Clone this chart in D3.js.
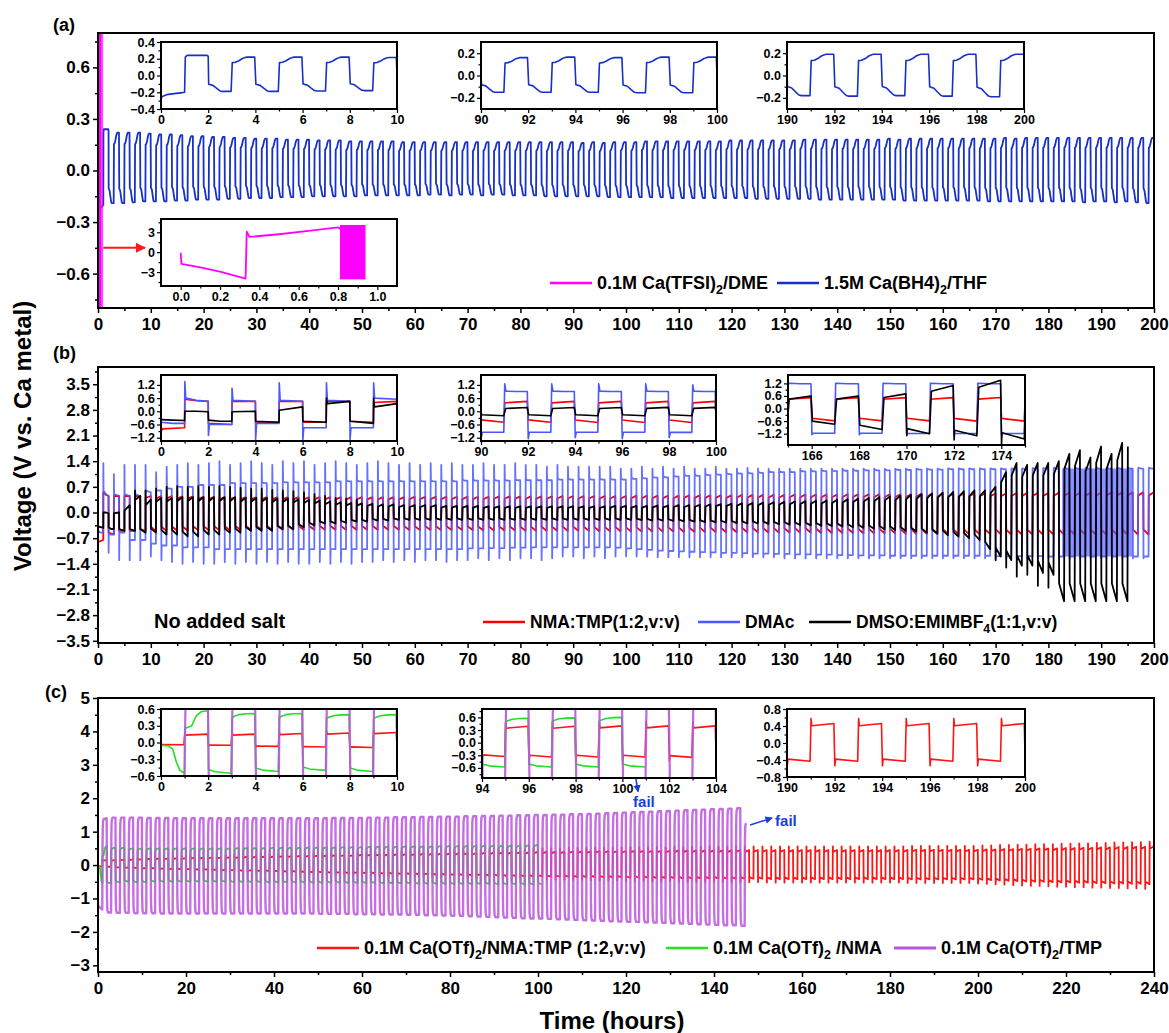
<!DOCTYPE html>
<html>
<head>
<meta charset="utf-8">
<script src="https://cdn.jsdelivr.net/npm/d3@7"></script>
<style>
  body { margin: 0; background: #fff; }
  text { white-space: pre; }
</style>
</head>
<body>
<svg id="chart" width="1169" height="1033"></svg>
<script>
const FONT = '"Liberation Sans", Arial, Helvetica, sans-serif';

// ---------------- panel (a) data ----------------
// 0.1M Ca(TFSI)2/DME (hours, V)
const tfsiTrace = [[0,-0.1],[0.004,-1.75],[0.1,-2.3],[0.2,-2.95],[0.33,-4.0],[0.336,3.1],[0.35,2.3],[0.5,2.7],[0.65,3.2],[0.8,3.75],[0.81,3.5]];
const tfsiBlock = [0.81, 0.94, -4.1, 4.1];   // dense cycling block: t start, t end, low, high

// 1.5M Ca(BH4)2/THF: first 2 h as read, then one level per cycle (neg half, pos half)
const bh4Head = [[0,-0.28],[0.05,-0.25],[0.3,-0.225],[0.9,-0.205],[1.0,-0.2],[1.03,0.22],[1.1,0.24],[1.95,0.24],[2.0,0.23]];
const bh4Start = 2;
const bh4Lo = [
  -0.19,-0.19,-0.185,-0.18,-0.18,-0.18,-0.175,-0.175,-0.17,
  -0.17,-0.17,-0.165,-0.165,-0.16,-0.16,-0.16,-0.155,-0.155,-0.155,
  -0.15,-0.15,-0.15,-0.15,-0.15,-0.145,-0.145,-0.145,-0.145,-0.145,
  -0.145,-0.14,-0.14,-0.145,-0.14,-0.14,-0.145,-0.14,-0.14,-0.145,
  -0.145,-0.145,-0.15,-0.15,-0.15,-0.15,-0.15,-0.15,-0.155,-0.155,
  -0.155,-0.155,-0.155,-0.155,-0.16,-0.16,-0.16,-0.16,-0.16,-0.16,
  -0.16,-0.16,-0.165,-0.165,-0.165,-0.165,-0.165,-0.165,-0.17,-0.17,
  -0.17,-0.17,-0.17,-0.17,-0.17,-0.17,-0.175,-0.175,-0.175,-0.175,
  -0.175,-0.175,-0.175,-0.175,-0.18,-0.18,-0.18,-0.18,-0.18,-0.18,
  -0.18,-0.18,-0.18,-0.185,-0.18,-0.18,-0.185,-0.18,-0.185,-0.19];
const bh4Hi = [
  0.22,0.22,0.22,0.215,0.21,0.21,0.205,0.2,0.2,
  0.195,0.195,0.19,0.19,0.185,0.185,0.185,0.18,0.18,0.18,
  0.175,0.175,0.175,0.17,0.17,0.17,0.17,0.17,0.165,0.165,
  0.165,0.165,0.165,0.165,0.165,0.165,0.165,0.165,0.165,0.165,
  0.165,0.165,0.165,0.165,0.165,0.16,0.165,0.16,0.165,0.165,
  0.165,0.17,0.17,0.17,0.17,0.17,0.17,0.17,0.17,0.175,
  0.175,0.175,0.175,0.175,0.175,0.175,0.18,0.18,0.18,0.18,
  0.18,0.18,0.18,0.18,0.185,0.18,0.185,0.185,0.185,0.185,
  0.185,0.185,0.185,0.185,0.185,0.19,0.185,0.19,0.19,0.19,
  0.19,0.19,0.19,0.19,0.19,0.19,0.19,0.19,0.19,0.19];
// half-cycle waveform: [fraction of half, fraction of level]
const bh4Pos = [[0.02,0.7],[0.15,0.72],[0.3,0.8],[0.45,0.92],[0.55,0.97],[0.65,1],[0.97,1]];
const bh4Neg = [[0.02,0.55],[0.2,0.62],[0.35,0.8],[0.5,0.97],[0.6,1],[0.97,1]];

// ---------------- panel (b) data ----------------
const bStart = 10;
const nmaHead = [[0,-0.95],[0.05,-0.8],[1,-0.75],[1.01,0.55],[1.5,0.48],[2,0.45],[2.01,-0.55],[3,-0.6],[3.01,0.45],[4,0.45],[4.01,-0.5],[5,-0.5],[5.01,0.45],[6,0.45],[6.01,-0.5],[7,-0.5],[7.01,0.45],[8,0.45],[8.01,-0.45],[9,-0.5],[9.01,0.4],[10,0.45]];
const nmaHi = [
  0.45,0.45,0.44,0.44,0.43,0.43,0.42,0.42,0.42,0.42,
  0.42,0.42,0.42,0.42,0.42,0.42,0.42,0.42,0.42,0.42,
  0.42,0.42,0.42,0.42,0.43,0.43,0.43,0.43,0.43,0.43,
  0.43,0.43,0.44,0.44,0.44,0.44,0.44,0.44,0.45,0.45,
  0.45,0.45,0.45,0.45,0.45,0.46,0.46,0.46,0.46,0.46,
  0.47,0.47,0.47,0.47,0.47,0.48,0.48,0.48,0.48,0.48,
  0.49,0.49,0.49,0.49,0.49,0.5,0.5,0.5,0.5,0.5,
  0.5,0.5,0.51,0.51,0.51,0.51,0.52,0.52,0.52,0.52,
  0.52,0.53,0.53,0.53,0.53,0.54,0.54,0.54,0.54,0.54,
  0.55,0.55,0.55,0.55,0.55];
const nmaLo = [
  -0.5,-0.5,-0.49,-0.49,-0.48,-0.48,-0.48,-0.48,-0.47,-0.47,
  -0.47,-0.47,-0.47,-0.47,-0.47,-0.47,-0.47,-0.47,-0.47,-0.47,
  -0.47,-0.47,-0.47,-0.47,-0.48,-0.48,-0.48,-0.48,-0.48,-0.48,
  -0.48,-0.49,-0.49,-0.49,-0.49,-0.5,-0.5,-0.5,-0.5,-0.5,
  -0.5,-0.5,-0.51,-0.51,-0.51,-0.52,-0.52,-0.52,-0.52,-0.52,
  -0.53,-0.53,-0.53,-0.53,-0.54,-0.54,-0.54,-0.54,-0.55,-0.55,
  -0.55,-0.55,-0.55,-0.56,-0.56,-0.56,-0.56,-0.57,-0.57,-0.57,
  -0.57,-0.58,-0.58,-0.58,-0.58,-0.58,-0.59,-0.59,-0.59,-0.59,
  -0.59,-0.6,-0.6,-0.6,-0.6,-0.6,-0.6,-0.6,-0.6,-0.6,
  -0.6,-0.6,-0.6,-0.6,-0.6];
const nmaPos = [[0.01,0.85],[0.97,1]];
const nmaNeg = [[0.01,0.78],[0.97,1]];

const dmacHead = [[0,-0.5],[0.5,-0.55],[1,-0.55],[1.01,1.35],[1.05,0.6],[1.5,0.5],[2,0.45],[2.01,-1.1],[2.05,-0.6],[3,-0.6],[3.01,1.05],[3.05,0.5],[4,0.45],[4.01,-1.3],[4.05,-0.55],[5,-0.55],[5.01,1.3],[5.05,0.5],[6,0.45],[6.01,-1.3],[6.05,-0.75],[7,-0.75],[7.01,1.3],[7.05,0.5],[8,0.45],[8.01,-1.3],[8.05,-0.75],[9,-0.75],[9.01,1.3],[9.05,0.6],[10,0.55]];
const dmacHi = [
  0.6,0.65,0.7,0.7,0.75,0.75,0.75,0.8,0.8,0.8,
  0.8,0.8,0.82,0.82,0.82,0.82,0.82,0.85,0.85,0.85,
  0.85,0.85,0.85,0.85,0.85,0.85,0.85,0.85,0.85,0.87,
  0.87,0.87,0.87,0.87,0.88,0.88,0.88,0.88,0.9,0.9,
  0.9,0.9,0.9,0.9,0.9,0.92,0.93,0.95,0.96,0.98,
  1.0,1.0,1.02,1.03,1.05,1.06,1.07,1.08,1.1,1.1,
  1.1,1.12,1.12,1.13,1.13,1.14,1.14,1.15,1.15,1.15,
  1.16,1.16,1.17,1.17,1.17,1.18,1.18,1.18,1.18,1.18,
  1.18,1.18,1.18,1.19,1.19,1.2,1.2,1.2,1.2,1.2,
  1.2,1.2,1.2,1.2,1.2];
const dmacPeak = [
  1.1,1.25,1.3,1.35,1.3,1.35,1.4,1.3,1.35,1.4,
  1.35,1.3,1.4,1.35,1.4,1.3,1.35,1.4,1.35,1.3,
  1.35,1.4,1.35,1.3,1.35,1.3,1.35,1.3,1.35,1.3,
  1.3,1.35,1.3,1.3,1.35,1.3,1.3,1.25,1.3,1.25,
  1.25,1.25,1.25,1.25,1.2,1.2,1.25,1.2,1.25,1.2,
  1.25,1.2,1.2,1.25,1.2,1.2,1.22,1.2,1.2,1.2,
  1.2,1.2,1.2,1.2,1.2,1.2,1.2,1.2,1.2,1.2,
  1.2,1.2,1.2,1.2,1.2,1.2,1.2,1.2,1.2,1.2,
  1.2,1.2,1.2,1.2,1.2,1.2,1.2,1.2,1.2,1.2,
  1.2,1.2,1.2,1.2,1.2];
const dmacLo = [
  -0.85,-0.9,-0.9,-0.95,-0.95,-0.95,-1.0,-1.0,-1.0,-1.0,
  -1.0,-1.0,-1.0,-1.0,-1.0,-1.0,-1.0,-1.0,-1.0,-1.0,
  -1.0,-1.0,-1.0,-1.0,-1.0,-1.0,-1.0,-1.0,-1.0,-1.0,
  -0.98,-0.98,-0.97,-0.97,-0.96,-0.96,-0.95,-0.95,-0.95,-0.95,
  -0.95,-0.95,-0.95,-0.95,-0.96,-0.98,-1.0,-1.02,-1.04,-1.05,
  -1.06,-1.07,-1.08,-1.09,-1.1,-1.1,-1.11,-1.12,-1.12,-1.13,
  -1.13,-1.14,-1.14,-1.15,-1.15,-1.16,-1.16,-1.17,-1.17,-1.17,
  -1.18,-1.18,-1.18,-1.18,-1.18,-1.18,-1.18,-1.18,-1.18,-1.18,
  -1.19,-1.19,-1.19,-1.19,-1.19,-1.2,-1.2,-1.2,-1.2,-1.2,
  -1.2,-1.2,-1.2,-1.2,-1.2];
const dmacDip = [
  -1.2,-1.3,-1.35,-1.4,-1.35,-1.4,-1.4,-1.35,-1.4,-1.35,
  -1.4,-1.35,-1.4,-1.35,-1.4,-1.4,-1.35,-1.4,-1.35,-1.4,
  -1.35,-1.35,-1.3,-1.35,-1.3,-1.35,-1.3,-1.3,-1.35,-1.3,
  -1.3,-1.25,-1.3,-1.25,-1.3,-1.25,-1.25,-1.3,-1.25,-1.2,
  -1.2,-1.25,-1.2,-1.25,-1.2,-1.2,-1.2,-1.2,-1.22,-1.22,
  -1.22,-1.22,-1.22,-1.22,-1.22,-1.22,-1.22,-1.22,-1.22,-1.22,
  -1.25,-1.25,-1.25,-1.25,-1.25,-1.25,-1.25,-1.25,-1.25,-1.25,
  -1.25,-1.25,-1.25,-1.25,-1.25,-1.25,-1.25,-1.25,-1.25,-1.25,
  -1.25,-1.25,-1.25,-1.25,-1.25,-1.25,-1.25,-1.25,-1.25,-1.25,
  -1.25,-1.25,-1.25,-1.25,-1.25];
const dmacPos = [[0.06,1.02],[0.5,1.0],[0.97,1.0]];
const dmacNeg = [[0.06,1.0],[0.97,1.0]];
const dmacBand = [182.6, 195.9, -1.2, 1.2];   // densely cycled region: t start, t end, low, high

const dmsoHead = [[0,-0.38],[0.5,-0.4],[1,-0.42],[1.01,0.0],[1.5,0.0],[2,-0.02],[2.01,-0.4],[2.5,-0.45],[3,-0.45],[3.01,-0.02],[4,0.0],[4.01,-0.45],[5,-0.5],[5.01,0.05],[6,0.2],[6.01,-0.45],[7,-0.5],[7.01,0.6],[7.05,0.35],[8,0.45],[8.01,-0.45],[9,-0.55],[9.01,0.6],[9.05,0.2],[10,0.35]];
const dmsoEnd = 195.9;
const dmsoHi = [
  0.4,0.4,0.42,0.42,0.42,0.42,0.42,0.42,0.4,0.4,
  0.4,0.38,0.38,0.36,0.35,0.33,0.3,0.28,0.26,0.25,
  0.24,0.22,0.22,0.2,0.2,0.2,0.2,0.18,0.18,0.18,
  0.18,0.17,0.17,0.17,0.17,0.17,0.17,0.17,0.17,0.17,
  0.17,0.17,0.17,0.18,0.18,0.18,0.18,0.19,0.19,0.2,
  0.2,0.21,0.22,0.23,0.24,0.25,0.26,0.27,0.28,0.29,
  0.3,0.31,0.32,0.33,0.35,0.36,0.38,0.4,0.42,0.44,
  0.46,0.48,0.5,0.52,0.54,0.56,0.58,0.6,0.6,0.7,
  1.1,1.35,1.3,1.35,1.35,1.4,1.6,1.7,1.5,1.8,
  1.6,1.9,2.4];
const dmsoLo = [
  -0.55,-0.6,-0.6,-0.65,-0.65,-0.6,-0.6,-0.55,-0.55,-0.5,
  -0.5,-0.5,-0.45,-0.45,-0.4,-0.35,-0.3,-0.3,-0.28,-0.25,
  -0.25,-0.22,-0.22,-0.2,-0.2,-0.2,-0.2,-0.2,-0.2,-0.2,
  -0.2,-0.2,-0.2,-0.2,-0.2,-0.2,-0.2,-0.2,-0.2,-0.2,
  -0.2,-0.2,-0.2,-0.2,-0.2,-0.2,-0.21,-0.22,-0.22,-0.23,
  -0.24,-0.25,-0.26,-0.27,-0.28,-0.29,-0.3,-0.3,-0.31,-0.32,
  -0.33,-0.34,-0.35,-0.36,-0.37,-0.38,-0.4,-0.42,-0.44,-0.46,
  -0.48,-0.5,-0.52,-0.55,-0.58,-0.62,-0.66,-0.7,-0.75,-1.0,
  -1.2,-1.3,-1.45,-1.45,-1.65,-1.7,-2.42,-2.42,-2.42,-2.42,
  -2.42,-2.42,-2.42];
const dmsoPeak = [0.65,0.7,0.72,0.7,0.72,0.7,0.72,0.7,0.68,0.65,0.65,0.62,0.6,0.58,0.55,0.5,0.45,0.4,0.38,0.35];
const dmsoDip = {80: -1.3, 81: -1.5, 82: -1.75, 83: -1.7, 84: -2.0, 85: -2.05};   // deep dips at start of late negative halves
const dmsoPos = [[0.05,0.75],[0.97,1]];
const dmsoNeg = [[0.03,0.8],[0.97,1]];

// ---------------- panel (c) data ----------------
const otfStart = 0;
const otfHi = [
  0.15,0.15,0.16,0.17,0.18,0.19,0.2,0.2,0.21,0.21,
  0.22,0.22,0.23,0.23,0.24,0.24,0.25,0.25,0.26,0.26,
  0.27,0.27,0.28,0.28,0.29,0.29,0.3,0.3,0.3,0.31,
  0.31,0.32,0.32,0.33,0.33,0.33,0.34,0.34,0.35,0.35,
  0.35,0.36,0.36,0.37,0.37,0.38,0.38,0.39,0.39,0.4,
  0.4,0.4,0.4,0.41,0.41,0.41,0.42,0.42,0.42,0.42,
  0.43,0.43,0.43,0.43,0.43,0.44,0.44,0.44,0.44,0.44,
  0.44,0.44,0.45,0.45,0.45,0.45,0.45,0.45,0.45,0.45,
  0.45,0.45,0.45,0.45,0.45,0.45,0.45,0.45,0.45,0.45,
  0.45,0.45,0.46,0.46,0.46,0.46,0.46,0.46,0.46,0.46,
  0.47,0.47,0.48,0.48,0.49,0.49,0.5,0.5,0.5,0.51,
  0.51,0.52,0.52,0.53,0.53,0.54,0.54,0.55,0.55,0.56];
const otfLo = [
  -0.04,-0.05,-0.07,-0.08,-0.09,-0.1,-0.1,-0.11,-0.12,-0.12,
  -0.13,-0.14,-0.14,-0.15,-0.16,-0.16,-0.17,-0.17,-0.18,-0.18,
  -0.19,-0.2,-0.2,-0.21,-0.22,-0.22,-0.23,-0.23,-0.24,-0.24,
  -0.25,-0.25,-0.26,-0.26,-0.27,-0.27,-0.28,-0.28,-0.29,-0.29,
  -0.3,-0.3,-0.31,-0.31,-0.32,-0.32,-0.33,-0.33,-0.34,-0.34,
  -0.34,-0.35,-0.35,-0.35,-0.36,-0.36,-0.36,-0.37,-0.37,-0.37,
  -0.38,-0.38,-0.38,-0.39,-0.39,-0.39,-0.4,-0.4,-0.4,-0.4,
  -0.4,-0.41,-0.41,-0.41,-0.41,-0.41,-0.42,-0.42,-0.42,-0.42,
  -0.42,-0.42,-0.42,-0.42,-0.42,-0.42,-0.42,-0.42,-0.42,-0.42,
  -0.42,-0.42,-0.43,-0.43,-0.43,-0.43,-0.43,-0.43,-0.43,-0.43,
  -0.44,-0.45,-0.46,-0.47,-0.48,-0.49,-0.5,-0.5,-0.51,-0.52,
  -0.52,-0.53,-0.53,-0.54,-0.54,-0.55,-0.55,-0.56,-0.56,-0.57];
const otfPos = [[0.01,1.25],[0.04,0.88],[0.97,1]];
const otfNeg = [[0.01,1.25],[0.04,0.88],[0.97,1]];

const nmaOtfHead = [[0,-0.05],[0.3,-0.06],[0.5,-0.12],[0.65,-0.35],[0.8,-0.5],[1.0,-0.55],[1.01,0.25],[1.3,0.3],[1.5,0.48],[1.7,0.55],[2.0,0.57]];
const nmaOtfStart = 2, nmaOtfEnd = 101;
const nmaOtfLo = [
  -0.55,-0.52,-0.5,-0.52,-0.52,-0.5,-0.5,-0.5,-0.5,-0.5,
  -0.5,-0.5,-0.5,-0.5,-0.51,-0.51,-0.51,-0.51,-0.52,-0.52,
  -0.52,-0.52,-0.52,-0.53,-0.53,-0.53,-0.53,-0.54,-0.54,-0.54,
  -0.54,-0.55,-0.55,-0.55,-0.55,-0.56,-0.56,-0.56,-0.56,-0.57,
  -0.57,-0.57,-0.57,-0.57,-0.58,-0.58,-0.58,-0.58,-0.58,-0.58];
const nmaOtfHi = [
  0.52,0.52,0.5,0.5,0.5,0.5,0.5,0.5,0.5,0.5,
  0.5,0.5,0.5,0.5,0.51,0.51,0.51,0.51,0.52,0.52,
  0.52,0.52,0.53,0.53,0.53,0.53,0.54,0.54,0.54,0.55,
  0.55,0.55,0.55,0.56,0.56,0.56,0.56,0.57,0.57,0.57,
  0.57,0.57,0.58,0.58,0.58,0.58,0.58,0.59,0.6];
const nmaOtfPos = [[0.01,0.85],[0.1,0.9],[0.3,0.96],[0.6,0.99],[0.97,1]];
const nmaOtfNeg = [[0.01,0.88],[0.3,0.95],[0.97,1]];

const tmpHead = [[0,-1.2],[0.3,-1.25],[0.97,-1.33],[1.03,0.5],[1.08,1.1],[1.15,1.3],[1.3,1.38],[1.97,1.4]];
const tmpStart = 2, tmpEnd = 147.4;
const tmpLo = [
  -1.42,-1.43,-1.43,-1.44,-1.44,-1.44,-1.45,-1.45,-1.45,-1.45,
  -1.45,-1.45,-1.45,-1.45,-1.45,-1.45,-1.45,-1.45,-1.45,-1.45,
  -1.45,-1.45,-1.45,-1.45,-1.46,-1.46,-1.46,-1.46,-1.47,-1.47,
  -1.47,-1.48,-1.48,-1.48,-1.49,-1.49,-1.5,-1.5,-1.51,-1.52,
  -1.52,-1.53,-1.54,-1.55,-1.56,-1.57,-1.58,-1.59,-1.6,-1.6,
  -1.61,-1.62,-1.63,-1.64,-1.65,-1.66,-1.67,-1.68,-1.69,-1.7,
  -1.7,-1.71,-1.72,-1.73,-1.74,-1.75,-1.76,-1.77,-1.78,-1.79,
  -1.8,-1.8,-1.82];
const tmpHi = [
  1.42,1.42,1.42,1.42,1.41,1.41,1.41,1.4,1.4,1.4,
  1.4,1.4,1.4,1.4,1.4,1.4,1.4,1.4,1.4,1.4,
  1.4,1.4,1.4,1.4,1.4,1.41,1.41,1.41,1.41,1.42,
  1.42,1.42,1.43,1.43,1.43,1.44,1.44,1.45,1.45,1.45,
  1.46,1.46,1.47,1.47,1.48,1.48,1.49,1.49,1.5,1.5,
  1.51,1.51,1.52,1.52,1.53,1.54,1.55,1.56,1.57,1.58,
  1.59,1.6,1.61,1.62,1.63,1.64,1.65,1.66,1.67,1.68,
  1.69,1.7,1.25];
const tmpShape = [[0.03,0.6],[0.08,0.88],[0.15,0.96],[0.3,1],[0.97,1]];

// ---------------- helpers ----------------
const svg = d3.select("#chart");
const LEFT = 98, RIGHT = 1154;

function addHalf(pts, t, level, shape, spike) {
  if (spike != null) pts.push([t + 0.01, spike]);
  shape.forEach(([f, m]) => pts.push([t + f, level * m]));
}

function buildTrace(s) {
  const pts = s.head ? s.head.map(d => d.slice()) : [];
  s.lo.forEach((lo, i) => {
    const t = s.t0 + 2 * i;
    addHalf(pts, t, lo, s.neg, s.dip ? s.dip[i] : undefined);
    if (i < s.hi.length) addHalf(pts, t + 1, s.hi[i], s.pos, s.peak ? s.peak[i] : undefined);
  });
  return s.end != null ? pts.filter(p => p[0] <= s.end) : pts;
}

let clipCount = 0;
function clipFor(x, y) {
  const id = "clip" + (clipCount++);
  svg.append("clipPath").attr("id", id).append("rect")
    .attr("x", x.range()[0]).attr("y", y.range()[1])
    .attr("width", x.range()[1] - x.range()[0])
    .attr("height", y.range()[0] - y.range()[1]);
  return `url(#${id})`;
}

function drawLine(g, x, y, pts, color, width, opacity) {
  const [d0, d1] = x.domain();
  const span = d1 - d0;
  const vis = pts.filter(p => p[0] >= d0 - span * 0.05 - 1 && p[0] <= d1 + span * 0.05 + 1);
  g.append("path").datum(vis)
    .attr("d", d3.line().x(d => x(d[0])).y(d => y(d[1])))
    .attr("fill", "none")
    .attr("stroke", color)
    .attr("stroke-width", width)
    .attr("stroke-opacity", opacity == null ? 1 : opacity)
    .attr("stroke-linejoin", "round");
}

function drawBlock(g, x, y, b, color, opacity) {
  g.append("rect")
    .attr("x", x(b[0])).attr("width", Math.max(0.8, x(b[1]) - x(b[0])))
    .attr("y", y(b[3])).attr("height", y(b[2]) - y(b[3]))
    .attr("fill", color).attr("fill-opacity", opacity == null ? 1 : opacity);
}

function drawAxes(g, x, y, o) {
  const [x0, x1] = x.range();
  const [yb, yt] = y.range();
  const add = (axis, tr) => {
    const a = g.append("g").attr("transform", tr).call(axis);
    a.select(".domain").remove();
    a.selectAll("line").attr("stroke", "#000").attr("stroke-width", o.tw);
    a.selectAll("text").attr("font-size", o.fs).attr("font-weight", "bold")
      .attr("font-family", FONT).attr("fill", "#000");
  };
  add(d3.axisBottom(x).tickValues(o.xMinor).tickSize(o.minor).tickFormat(""), `translate(0,${yb})`);
  add(d3.axisBottom(x).tickValues(o.xMajor).tickSize(o.major).tickPadding(o.xpad).tickFormat(o.xFmt), `translate(0,${yb})`);
  add(d3.axisLeft(y).tickValues(o.yMinor).tickSize(o.minor).tickFormat(""), `translate(${x0},0)`);
  add(d3.axisLeft(y).tickValues(o.yMajor).tickSize(o.major).tickPadding(o.ypad).tickFormat(o.yFmt), `translate(${x0},0)`);
  g.append("rect").attr("x", x0).attr("y", yt).attr("width", x1 - x0).attr("height", yb - yt)
    .attr("fill", "none").attr("stroke", "#000").attr("stroke-width", o.fw);
}

function richText(g, x, y, parts, size, color) {
  const t = g.append("text").attr("x", x).attr("y", y)
    .attr("font-family", FONT).attr("font-weight", "bold")
    .attr("font-size", size).attr("fill", color || "#000");
  let shift = 0;
  parts.forEach(p => {
    const sub = typeof p !== "string";
    const target = sub ? size * 0.3 : 0;
    t.append("tspan").attr("dy", target - shift)
      .attr("font-size", sub ? size * 0.7 : size)
      .text(sub ? p.sub : p);
    shift = target;
  });
  return t;
}

function legendItem(g, x, y, color, width, parts, size) {
  g.append("line").attr("x1", x).attr("x2", x + 42).attr("y1", y - 6).attr("y2", y - 6)
    .attr("stroke", color).attr("stroke-width", width);
  richText(g, x + 47, y, parts, size);
}

const f1 = d3.format(".1f"), fd = d3.format("d");
const steps = (a, b, s) => d3.range(Math.round((b - a) / s) + 1).map(i => +(a + i * s).toFixed(4));

function inset(box, xd, yd, ax, series, blocks) {
  const x = d3.scaleLinear().domain(xd).range([box[0], box[1]]);
  const y = d3.scaleLinear().domain(yd).range([box[3], box[2]]);
  const g = svg.append("g");
  g.append("rect").attr("x", box[0]).attr("y", box[2]).attr("width", box[1] - box[0])
    .attr("height", box[3] - box[2]).attr("fill", "#fff");
  const lg = g.append("g").attr("clip-path", clipFor(x, y));
  (blocks || []).forEach(b => drawBlock(lg, x, y, b[0], b[1], b[2]));
  series.forEach(s => drawLine(lg, x, y, s[0], s[1], s[2], s[3]));
  drawAxes(g, x, y, Object.assign({tw: 1.2, fs: 12.5, major: 4, minor: 2.5, xpad: 2, ypad: 2, fw: 2}, ax));
  return {x, y};
}

// ---------------- traces ----------------
const bh4Trace = buildTrace({head: bh4Head, t0: bh4Start, lo: bh4Lo, hi: bh4Hi, pos: bh4Pos, neg: bh4Neg});
const nmaTrace = buildTrace({head: nmaHead, t0: bStart, lo: nmaLo, hi: nmaHi, pos: nmaPos, neg: nmaNeg});
const dmacTrace = buildTrace({head: dmacHead, t0: bStart, lo: dmacLo, hi: dmacHi, pos: dmacPos, neg: dmacNeg, peak: dmacPeak, dip: dmacDip});
const dmsoTrace = buildTrace({head: dmsoHead, t0: bStart, lo: dmsoLo, hi: dmsoHi, pos: dmsoPos, neg: dmsoNeg, peak: dmsoPeak, dip: dmsoDip, end: dmsoEnd});
const otfTrace = buildTrace({t0: otfStart, lo: otfLo, hi: otfHi, pos: otfPos, neg: otfNeg});
const nmaOtfTrace = buildTrace({head: nmaOtfHead, t0: nmaOtfStart, lo: nmaOtfLo, hi: nmaOtfHi, pos: nmaOtfPos, neg: nmaOtfNeg, end: nmaOtfEnd});
const tmpTrace = buildTrace({head: tmpHead, t0: tmpStart, lo: tmpLo, hi: tmpHi, pos: tmpShape, neg: tmpShape, end: tmpEnd});

const BLUE_A = "#1630c8", MAGENTA = "#ff00ff";
const RED = "#ff0000", BLUE_B = "#4a58ff", BLACK = "#000000";
const RED_C = "#ff1414", GREEN = "#22e022", PURPLE = "#bb55dd", FAIL = "#1a3de0";

svg.append("defs").html(
  `<marker id="arrRed" viewBox="0 0 10 10" refX="9" refY="5" markerWidth="5" markerHeight="5" orient="auto"><path d="M0,0L10,5L0,10z" fill="#ff1a1a"/></marker>
   <marker id="arrBlue" viewBox="0 0 10 10" refX="9" refY="5" markerWidth="5" markerHeight="5" orient="auto"><path d="M0,0L10,5L0,10z" fill="${FAIL}"/></marker>`);

// ---------------- panel (a) ----------------
{
  const x = d3.scaleLinear().domain([0, 200]).range([LEFT, RIGHT]);
  const y = d3.scaleLinear().domain([-0.8, 0.8]).range([308, 33]);
  const g = svg.append("g");
  const lg = g.append("g").attr("clip-path", clipFor(x, y));
  drawLine(lg, x, y, bh4Trace, BLUE_A, 1.8);
  drawLine(lg, x, y, tfsiTrace, MAGENTA, 4);
  drawBlock(lg, x, y, tfsiBlock, MAGENTA);

  const axA = {xMajor: steps(90, 100, 2), xMinor: steps(91, 99, 2), xFmt: fd,
               yMajor: [-0.2, 0, 0.2], yMinor: [-0.1, 0.1], yFmt: f1};
  inset([161, 397, 42, 109], [0, 10], [-0.4, 0.4],
        {xMajor: steps(0, 10, 2), xMinor: steps(1, 9, 2), xFmt: fd,
         yMajor: steps(-0.4, 0.4, 0.2), yMinor: [-0.3, -0.1, 0.1, 0.3], yFmt: f1},
        [[bh4Trace, BLUE_A, 1.6]]);
  inset([481, 717, 42, 109], [90, 100], [-0.3, 0.3], axA, [[bh4Trace, BLUE_A, 1.6]]);
  inset([787, 1024, 42, 109], [190, 200], [-0.3, 0.3],
        Object.assign({}, axA, {xMajor: steps(190, 200, 2), xMinor: steps(191, 199, 2)}),
        [[bh4Trace, BLUE_A, 1.6]]);
  inset([161, 397, 219, 286], [-0.1, 1.1], [-5.1, 5],
        {xMajor: steps(0, 1, 0.2), xMinor: steps(0.1, 0.9, 0.2), xFmt: f1,
         yMajor: [-3, 0, 3], yMinor: [-4.5, -1.5, 1.5, 4.5], yFmt: fd},
        [[tfsiTrace, MAGENTA, 1.8]], [[tfsiBlock, MAGENTA, 1]]);

  g.append("line").attr("x1", x(1.0)).attr("x2", 145).attr("y1", y(-0.45)).attr("y2", y(-0.45))
    .attr("stroke", "#ff1a1a").attr("stroke-width", 2).attr("marker-end", "url(#arrRed)");

  drawAxes(g, x, y, {xMajor: steps(0, 200, 10), xMinor: steps(5, 195, 10), xFmt: fd,
    yMajor: [-0.6, -0.3, 0, 0.3, 0.6], yMinor: [-0.75, -0.45, -0.15, 0.15, 0.45, 0.75], yFmt: f1,
    tw: 1.5, fs: 17, major: 5, minor: 3, xpad: 5, ypad: 3, fw: 2});

  legendItem(g, 550, 289, MAGENTA, 2.5, ["0.1M Ca(TFSI)", {sub: "2"}, "/DME"], 18);
  legendItem(g, 777, 289, BLUE_A, 2.5, ["1.5M Ca(BH4)", {sub: "2"}, "/THF"], 18);
  richText(g, 53, 31, ["(a)"], 18);
}

// ---------------- panel (b) ----------------
{
  const x = d3.scaleLinear().domain([0, 200]).range([LEFT, RIGHT]);
  const y = d3.scaleLinear().domain([-3.56, 3.97]).range([643, 367]);
  const g = svg.append("g");
  const lg = g.append("g").attr("clip-path", clipFor(x, y));
  drawLine(lg, x, y, nmaTrace, RED, 1.8);
  drawBlock(lg, x, y, dmacBand, BLUE_B, 0.65);
  drawLine(lg, x, y, dmacTrace, BLUE_B, 1.8, 0.85);
  drawLine(lg, x, y, dmsoTrace, BLACK, 1.8);

  const series = [[nmaTrace, RED, 1.6], [dmacTrace, BLUE_B, 1.6], [dmsoTrace, BLACK, 1.6]];
  const axB = {xMajor: steps(0, 10, 2), xMinor: steps(1, 9, 2), xFmt: fd,
               yMajor: steps(-1.2, 1.2, 0.6), yMinor: [-0.9, -0.3, 0.3, 0.9], yFmt: f1};
  inset([161, 397, 375, 441], [0, 10], [-1.35, 1.65], axB, series);
  inset([481, 716, 375, 441], [90, 100], [-1.35, 1.65],
        Object.assign({}, axB, {xMajor: steps(90, 100, 2), xMinor: steps(91, 99, 2)}), series);
  inset([788, 1025, 375, 445], [165, 175], [-1.74, 1.6],
        Object.assign({}, axB, {xMajor: steps(166, 174, 2), xMinor: steps(165, 175, 2)}), series);

  drawAxes(g, x, y, {xMajor: steps(0, 200, 10), xMinor: steps(5, 195, 10), xFmt: fd,
    yMajor: steps(-3.5, 3.5, 0.7), yMinor: steps(-3.15, 3.85, 0.7), yFmt: f1,
    tw: 1.5, fs: 17, major: 5, minor: 3, xpad: 5, ypad: 3, fw: 2});

  richText(g, 154, 628, ["No added salt"], 20);
  legendItem(g, 483, 628, RED, 2.5, ["NMA:TMP(1:2,v:v)"], 17.5);
  legendItem(g, 698, 628, BLUE_B, 2.5, ["DMAc"], 17.5);
  legendItem(g, 809, 628, BLACK, 2.5, ["DMSO:EMIMBF", {sub: "4"}, "(1:1,v:v)"], 17.5);
  richText(g, 53, 359, ["(b)"], 18);
}

// ---------------- panel (c) ----------------
{
  const x = d3.scaleLinear().domain([0, 240]).range([LEFT, RIGHT]);
  const y = d3.scaleLinear().domain([-3.2, 5]).range([972, 698]);
  const g = svg.append("g");
  const lg = g.append("g").attr("clip-path", clipFor(x, y));
  drawLine(lg, x, y, otfTrace, RED_C, 1.8);
  drawLine(lg, x, y, nmaOtfTrace, GREEN, 1.8);
  drawLine(lg, x, y, tmpTrace, PURPLE, 2.4, 0.85);

  const series = [[otfTrace, RED_C, 1.6], [nmaOtfTrace, GREEN, 1.6], [tmpTrace, PURPLE, 2.2, 0.9]];
  inset([161, 397, 709, 776], [0, 10], [-0.6, 0.6],
        {xMajor: steps(0, 10, 2), xMinor: steps(1, 9, 2), xFmt: fd,
         yMajor: steps(-0.6, 0.6, 0.3), yMinor: [-0.45, -0.15, 0.15, 0.45], yFmt: f1}, series);
  const in2 = inset([482, 716, 709, 778], [94, 104], [-0.84, 0.8],
        {xMajor: steps(94, 104, 2), xMinor: steps(95, 103, 2), xFmt: fd,
         yMajor: steps(-0.6, 0.6, 0.3), yMinor: [-0.75, -0.45, -0.15, 0.15, 0.45, 0.75], yFmt: f1}, series);
  inset([787, 1025, 709, 777], [190, 200], [-0.8, 0.8],
        {xMajor: steps(190, 200, 2), xMinor: steps(191, 199, 2), xFmt: fd,
         yMajor: steps(-0.8, 0.8, 0.4), yMinor: [-0.6, -0.2, 0.2, 0.6], yFmt: f1}, series);

  // "fail" notes: NMA cell at 100.5 h (inset), TMP cell at its last point
  g.append("line").attr("x1", in2.x(100.5)).attr("y1", in2.y(-0.62))
    .attr("x2", in2.x(100.5) + 4).attr("y2", in2.y(-0.62) + 23)
    .attr("stroke", FAIL).attr("stroke-width", 1.5).attr("marker-end", "url(#arrBlue)");
  richText(g, in2.x(100.5) - 1, in2.y(-0.62) + 38, ["fail"], 15, FAIL);
  const tEnd = tmpTrace[tmpTrace.length - 1];
  g.append("line").attr("x1", x(tEnd[0]) + 4).attr("y1", y(1.2))
    .attr("x2", x(tEnd[0]) + 26).attr("y2", y(1.2) - 7)
    .attr("stroke", FAIL).attr("stroke-width", 1.5).attr("marker-end", "url(#arrBlue)");
  richText(g, x(tEnd[0]) + 29, y(1.2) + 1, ["fail"], 15, FAIL);

  drawAxes(g, x, y, {xMajor: steps(0, 240, 20), xMinor: steps(10, 230, 20), xFmt: fd,
    yMajor: steps(-3, 5, 1), yMinor: steps(-2.5, 4.5, 1), yFmt: fd,
    tw: 1.5, fs: 17, major: 5, minor: 3, xpad: 5, ypad: 3, fw: 2});

  legendItem(g, 317, 954, RED_C, 2.5, ["0.1M Ca(OTf)", {sub: "2"}, "/NMA:TMP (1:2,v:v)"], 18);
  legendItem(g, 666, 954, GREEN, 2.5, ["0.1M Ca(OTf)", {sub: "2"}, " /NMA"], 18);
  legendItem(g, 894, 954, PURPLE, 3, ["0.1M Ca(OTf)", {sub: "2"}, "/TMP"], 18);
  richText(g, 45, 698, ["(c)"], 18);
}

// ---------------- axis titles ----------------
svg.append("text").attr("transform", "translate(31,436) rotate(-90)")
  .attr("text-anchor", "middle").attr("font-family", FONT).attr("font-weight", "bold")
  .attr("font-size", 24).text("Voltage (V vs. Ca metal)");
svg.append("text").attr("x", 612).attr("y", 1029)
  .attr("text-anchor", "middle").attr("font-family", FONT).attr("font-weight", "bold")
  .attr("font-size", 24).text("Time (hours)");
</script>
</body>
</html>
